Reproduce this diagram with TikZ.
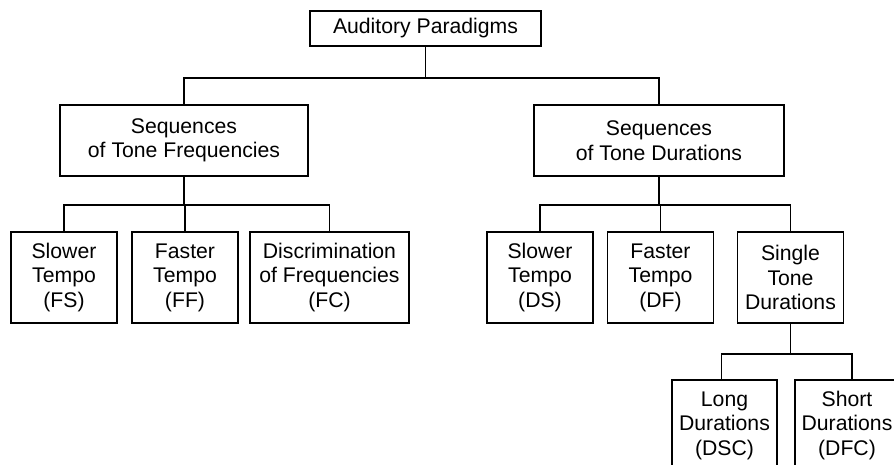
\documentclass[tikz,border=0pt]{standalone}
\usepackage{fontspec}
\setmainfont{Liberation Sans}

\begin{document}
\begin{tikzpicture}[x=1pt, y=-1pt,
    box/.style={draw, line width=1.2pt, align=center, inner sep=0pt,
        font=\fontsize{21.2}{24.5}\selectfont},
    small/.style={box, minimum width=106pt, minimum height=91pt},
    link/.style={draw, line width=1.2pt}]

    \clip (0,0) rectangle (894,465);

    % level 1
    \node[box, minimum width=231pt, minimum height=35pt] (aud) at (425.5,28.5) {Auditory Paradigms};

    % level 2
    \node[box, minimum width=248pt, minimum height=71pt] (seqF) at (184,140.5) {Sequences\\of Tone Frequencies};
    \node[box, minimum width=250pt, minimum height=71pt] (seqD) at (659,140.5) {Sequences\\of Tone Durations};

    % level 3, frequencies
    \node[small] (fs) at (64,277.5) {Slower\\Tempo\\(FS)};
    \node[small] (ff) at (185,277.5) {Faster\\Tempo\\(FF)};
    \node[small, minimum width=159pt] (fc) at (329.5,277.5) {Discrimination\\of Frequencies\\(FC)};

    % level 3, durations
    \node[small] (ds) at (540,277.5) {Slower\\Tempo\\(DS)};
    \node[small] (df) at (660.5,277.5) {Faster\\Tempo\\(DF)};
    \node[small] (st) at (790.5,277.5) {Single\\Tone\\Durations};

    % level 4
    \node[small, minimum width=105pt] (dsc) at (724.5,425.5) {Long\\Durations\\(DSC)};
    \node[small, minimum width=104pt] (dfc) at (847,425.5) {Short\\Durations\\(DFC)};

    % buses
    \coordinate (bus1) at (0,78);
    \coordinate (bus2) at (0,205);
    \coordinate (bus3) at (0,354);

    \path[link] (aud.south) -- (aud.south |- bus1);
    \path[link] (seqF.north) -- (seqF.north |- bus1) -- (seqD.north |- bus1) -- (seqD.north);

    \path[link] (seqF.south) -- (seqF.south |- bus2);
    \path[link] (fs.north) -- (fs.north |- bus2) -- (fc.north |- bus2) -- (fc.north);
    \path[link] (ff.north) -- (ff.north |- bus2);

    \path[link] (seqD.south) -- (seqD.south |- bus2);
    \path[link] (ds.north) -- (ds.north |- bus2) -- (st.north |- bus2) -- (st.north);
    \path[link] (df.north) -- (df.north |- bus2);

    \path[link] (st.south) -- (st.south |- bus3);
    \path[link] ([xshift=-3pt]dsc.north) -- ([xshift=-3pt]dsc.north |- bus3) -- ([xshift=5pt]dfc.north |- bus3) -- ([xshift=5pt]dfc.north);

\end{tikzpicture}
\end{document}
